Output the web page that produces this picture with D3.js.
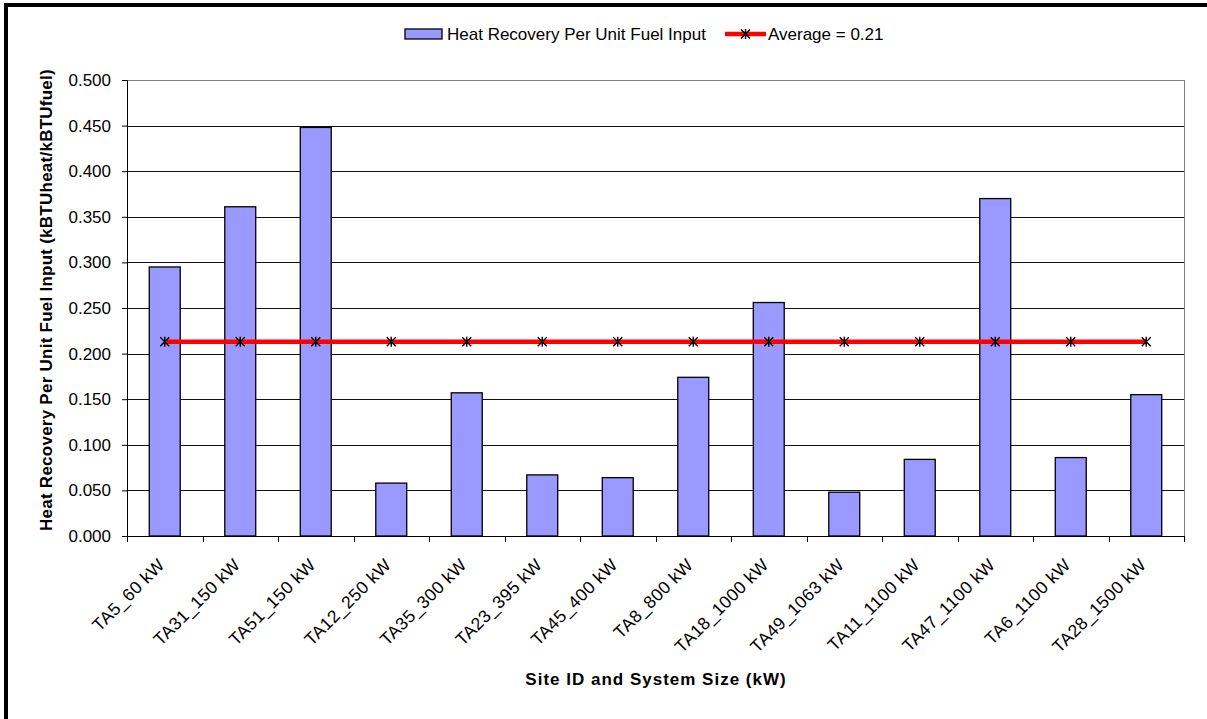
<!DOCTYPE html>
<html>
<head>
<meta charset="utf-8">
<script src="https://cdn.jsdelivr.net/npm/d3@7"></script>
<style>
  body { margin: 0; background: #fff; }
  text { font-family: Arial, "Liberation Sans", sans-serif; }
</style>
</head>
<body>
<svg id="chart" width="1207" height="719"></svg>
<script>
var sites = ['TA5_60 kW', 'TA31_150 kW', 'TA51_150 kW', 'TA12_250 kW', 'TA35_300 kW',
  'TA23_395 kW', 'TA45_400 kW', 'TA8_800 kW', 'TA18_1000 kW', 'TA49_1063 kW',
  'TA11_1100 kW', 'TA47_1100 kW', 'TA6_1100 kW', 'TA28_1500 kW']
var heatRecovery = [0.295, 0.361, 0.448, 0.058, 0.157, 0.067, 0.064, 0.174,
  0.256, 0.048, 0.084, 0.370, 0.086, 0.155]
var average = 0.213
var yTicks = [0, 0.05, 0.1, 0.15, 0.2, 0.25, 0.3, 0.35, 0.4, 0.45, 0.5]

;(function() {
  var svg = d3.select('#chart')
  var plotL = 127, plotR = 1184, plotT = 80, plotB = 536

  var x = d3.scaleBand().domain(sites).range([plotL, plotR]).paddingInner(0.59).paddingOuter(0.295)
  var xb = d3.scaleBand().domain(sites).range([plotL, plotR])
  var y = d3.scaleLinear().domain([0, 0.5]).range([plotB, plotT])

  // outer frame (only top and left edges fall inside the picture)
  svg.append('rect').attr('x', 6).attr('y', 5).attr('width', 1220).attr('height', 740)
    .attr('fill', 'none').attr('stroke', '#000').attr('stroke-width', 4)

  // gridlines
  svg.append('g').selectAll('line').data(yTicks.slice(1)).enter().append('line')
    .attr('x1', plotL).attr('x2', plotR)
    .attr('y1', d => Math.round(y(d)) + 0.5).attr('y2', d => Math.round(y(d)) + 0.5)
    .attr('stroke', d => d === 0.5 ? '#808080' : '#111').attr('stroke-width', 1)
  // right border of plot area
  svg.append('line').attr('x1', plotR + 0.5).attr('x2', plotR + 0.5).attr('y1', plotT).attr('y2', plotB)
    .attr('stroke', '#808080')

  // bars
  svg.append('g').selectAll('rect').data(sites).enter().append('rect')
    .attr('x', d => x(d))
    .attr('width', x.bandwidth())
    .attr('y', (d, i) => y(heatRecovery[i]))
    .attr('height', (d, i) => plotB - y(heatRecovery[i]))
    .attr('fill', '#9999ff').attr('stroke', '#000').attr('stroke-width', 1.3)

  // y axis
  var yAxis = d3.axisLeft(y).tickValues(yTicks).tickFormat(d3.format('.3f')).tickSize(5).tickPadding(11)
  var gy = svg.append('g').attr('transform', 'translate(' + plotL + ',0)').call(yAxis)
  gy.select('.domain').attr('stroke', '#000')
  gy.selectAll('.tick line').attr('stroke', '#000')
  gy.selectAll('text').style('font-size', '17px').attr('fill', '#000')

  // x axis with ticks at category boundaries
  svg.append('line').attr('x1', plotL).attr('x2', plotR).attr('y1', plotB + 0.5).attr('y2', plotB + 0.5)
    .attr('stroke', '#000')
  var bounds = sites.map(d => xb(d)).concat([plotR])
  svg.append('g').selectAll('line').data(bounds).enter().append('line')
    .attr('x1', d => Math.round(d) + 0.5).attr('x2', d => Math.round(d) + 0.5)
    .attr('y1', plotB).attr('y2', plotB + 6).attr('stroke', '#000')

  svg.append('g').selectAll('text').data(sites).enter().append('text')
    .attr('transform', d => 'translate(' + (xb(d) + xb.bandwidth() / 2 + 1) + ',' + 566 + ') rotate(-45)')
    .attr('text-anchor', 'end')
    .style('font-size', '17.5px')
    .style('letter-spacing', '0.4px')
    .text(d => d)

  // average line
  var avgLine = d3.line().x(d => x(d) + x.bandwidth() / 2).y(() => y(average))
  svg.append('path').datum(sites).attr('d', avgLine)
    .attr('fill', 'none').attr('stroke', '#ff0000').attr('stroke-width', 4.5)

  var star = 'M-4.5,-4.5L4.5,4.5M-4.5,4.5L4.5,-4.5M0,-5L0,5'
  svg.append('g').selectAll('path').data(sites).enter().append('path')
    .attr('transform', d => 'translate(' + (x(d) + x.bandwidth() / 2) + ',' + y(average) + ')')
    .attr('d', star).attr('stroke', '#000').attr('stroke-width', 1.4).attr('fill', 'none')

  // axis titles
  svg.append('text')
    .attr('transform', 'translate(52,300) rotate(-90)')
    .attr('text-anchor', 'middle').style('font-size', '17px').style('font-weight', 'bold')
    .style('letter-spacing', '0.25px')
    .text('Heat Recovery Per Unit Fuel Input (kBTUheat/kBTUfuel)')
  svg.append('text')
    .attr('x', 656).attr('y', 685)
    .attr('text-anchor', 'middle').style('font-size', '17px').style('font-weight', 'bold')
    .style('letter-spacing', '1px')
    .text('Site ID and System Size (kW)')

  // legend
  var lg = svg.append('g')
  lg.append('rect').attr('x', 405).attr('y', 29).attr('width', 37).attr('height', 10)
    .attr('fill', '#9999ff').attr('stroke', '#000').attr('stroke-width', 1.3)
  lg.append('text').attr('x', 447).attr('y', 40).style('font-size', '17px')
    .text('Heat Recovery Per Unit Fuel Input')
  lg.append('line').attr('x1', 725).attr('x2', 766).attr('y1', 34).attr('y2', 34)
    .attr('stroke', '#ff0000').attr('stroke-width', 4.5)
  lg.append('path').attr('transform', 'translate(745.5,34)').attr('d', star)
    .attr('stroke', '#000').attr('stroke-width', 1.4).attr('fill', 'none')
  lg.append('text').attr('x', 768).attr('y', 40).style('font-size', '17px')
    .text('Average = 0.21')
})()
</script>
</body>
</html>
